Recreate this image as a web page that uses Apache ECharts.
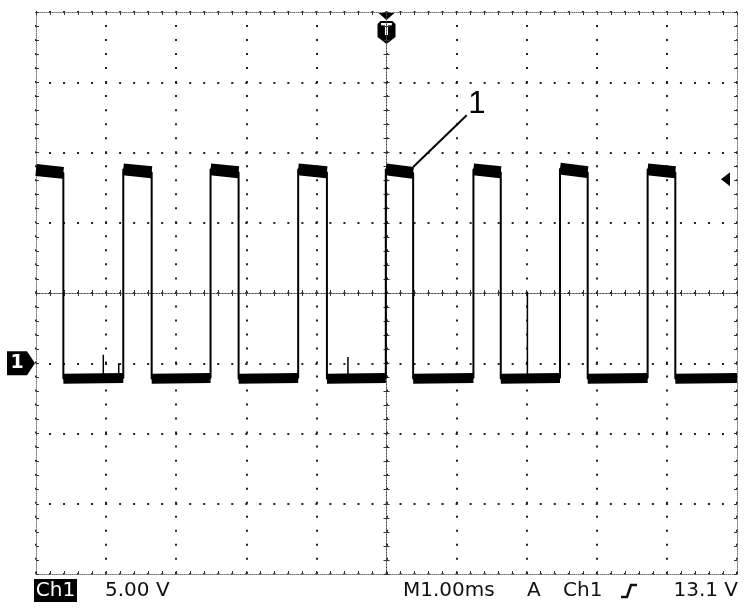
<!DOCTYPE html>
<html><head><meta charset="utf-8">
<script src="https://cdn.jsdelivr.net/npm/echarts@6/dist/echarts.min.js"></script>
<style>html,body{margin:0;padding:0;background:#fff}#c{width:750px;height:614px}</style>
</head><body><div id="c"></div>
<script>
// time in ms (trigger at 0), voltage in V (5 V/div, ground 1 div below centre)
const fallEdges = [-4.61, -3.35, -2.11, -0.85, 0.38, 1.63, 2.87, 4.12];
const riseEdges = [-3.755, -2.51, -1.26, -0.01, 1.24, 2.475, 3.725];
const highStart = [13.75, 13.8, 13.8, 13.8, 13.8, 13.8, 13.85, 13.8];
const highEnd   = [13.55, 13.6, 13.6, 13.6, 13.55, 13.6, 13.6, 13.6];
const lowStart  = [-1.1, -1.1, -1.1, -1.1, -1.1, -1.1, -1.1, -1.1];
const lowEnd    = [-1.05, -1.05, -1.05, -1.05, -1.05, -1.05, -1.05, -1.05];
const spikeTimes = [-4.04, -3.82, -0.55, 2.01];
const spikePeaks = [0.6, 0.0, 0.45, 5.05];
const triggerLevel = 13.1;
const tMin = -5, tMax = 5, vMin = -15, vMax = 25;
const bottomTexts = ['Ch1', '5.00 V', 'M1.00ms', 'A', 'Ch1', '13.1 V'];
const annotation = {from: [0.38, 13.97], to: [1.144, 17.65], labelAt: [1.29, 18.4], text: '1'};

// build waveform
const trace = [], highBand = [], lowBand = [];
for (let i = 0; i < fallEdges.length; i++) {
  const hs = i === 0 ? tMin : riseEdges[i - 1];
  const le = i < riseEdges.length ? riseEdges[i] : tMax;
  trace.push([hs, highStart[i]], [fallEdges[i], highEnd[i]], [fallEdges[i], lowStart[i]], [le, lowEnd[i]]);
  highBand.push([hs, highStart[i]], [fallEdges[i], highEnd[i]], [fallEdges[i], '-']);
  lowBand.push([fallEdges[i], lowStart[i]], [le, lowEnd[i]], [le, '-']);
}
const spikes = [];
spikeTimes.forEach((t, i) => { spikes.push([t, -1.05], [t, spikePeaks[i]], [t, '-']); });

const dotted = {show: true, lineStyle: {color: '#222', width: 2, type: [2, 12.02], dashOffset: 1}};
const borderLine = {show: true, onZero: false, lineStyle: {color: '#777', width: 1, type: [1, 1]}};
const centerLine = {show: true, onZero: true, lineStyle: {color: '#444', width: 1, type: [1, 2]}};
function xAx(extra) {
  return Object.assign({type: 'value', min: tMin, max: tMax, interval: 1,
    axisLabel: {show: false}, splitLine: {show: false},
    axisTick: {show: true, inside: true, length: 3, lineStyle: {color: '#333'}},
    minorTick: {show: true, splitNumber: 5, length: 3, lineStyle: {color: '#333'}}}, extra);
}
function yAx(extra) {
  return Object.assign({type: 'value', min: vMin, max: vMax, interval: 5,
    axisLabel: {show: false}, splitLine: {show: false},
    axisTick: {show: true, inside: true, length: 3, lineStyle: {color: '#333'}},
    minorTick: {show: true, splitNumber: 5, length: 3, lineStyle: {color: '#333'}}}, extra);
}

const option = {
  animation: false,
  backgroundColor: '#fff',
  grid: {left: 36, right: 13, top: 12, bottom: 40},
  xAxis: [
    xAx({position: 'bottom', axisLine: borderLine, splitLine: dotted}),
    xAx({position: 'top', axisLine: borderLine}),
    xAx({position: 'bottom', axisLine: Object.assign({onZeroAxisIndex: 2}, centerLine)}),
    xAx({position: 'bottom', axisLine: Object.assign({onZeroAxisIndex: 2}, centerLine), axisTick: {show: true, inside: false, length: 3, lineStyle: {color: '#333'}}})
  ],
  yAxis: [
    yAx({position: 'left', axisLine: borderLine, splitLine: dotted}),
    yAx({position: 'right', axisLine: borderLine}),
    {type: 'value', min: -4, max: 4, show: false},
    yAx({position: 'left', axisLine: Object.assign({onZeroAxisIndex: 0}, centerLine)}),
    yAx({position: 'left', axisLine: Object.assign({onZeroAxisIndex: 0}, centerLine), axisTick: {show: true, inside: false, length: 3, lineStyle: {color: '#333'}}})
  ],
  series: [
    {type: 'line', name: 'high band', data: highBand, symbol: 'none', lineStyle: {color: '#000', width: 12, cap: 'butt'}, connectNulls: false, z: 3},
    {type: 'line', name: 'low band', data: lowBand, symbol: 'none', lineStyle: {color: '#000', width: 10, cap: 'butt'}, connectNulls: false, z: 3},
    {type: 'line', name: 'trace', data: trace, symbol: 'none', lineStyle: {color: '#000', width: 2}, z: 4,
      markLine: {silent: true, symbol: 'none', label: {show: false}, lineStyle: {color: '#000', width: 2, type: 'solid'},
        data: [[{coord: annotation.from}, {coord: annotation.to}]]},
      markPoint: {symbol: 'circle', symbolSize: 2, itemStyle: {color: 'rgba(0,0,0,0)'},
        label: {show: true, formatter: annotation.text, color: '#000', fontSize: 31, fontFamily: 'Liberation Sans', position: 'inside'},
        data: [{coord: annotation.labelAt}]}},
    {type: 'line', name: 'spikes', data: spikes, symbol: 'none', lineStyle: {color: '#000', width: 1.5}, connectNulls: false, z: 4}
  ]
};

const chart = echarts.init(document.getElementById('c'), null, {renderer: 'canvas'});
chart.setOption(option);
const px = (t, v) => chart.convertToPixel({xAxisIndex: 0, yAxisIndex: 0}, [t, v]);
const topC = px(0, vMax), gnd = px(tMin, 0), trg = px(tMax, triggerLevel);
const cx = topC[0], ty = topC[1], gy = gnd[1], gx = gnd[0], rx = trg[0], ry = trg[1];
const font = '20px "DejaVu Sans"';
const txt = (s, x, align) => ({type: 'text', style: {text: s, x: x, y: 591, align: align || 'left', verticalAlign: 'middle', font: font, fill: '#111'}});
chart.setOption({graphic: [
  {type: 'polygon', shape: {points: [[cx - 8, ty + 1], [cx + 8, ty + 1], [cx, ty + 8]]}, style: {fill: '#000'}},
  {type: 'polygon', shape: {points: [[cx - 9, ty + 12], [cx - 6, ty + 9], [cx + 6, ty + 9], [cx + 9, ty + 12], [cx + 9, ty + 25], [cx, ty + 32], [cx - 9, ty + 25]]}, style: {fill: '#000'}},
  {type: 'text', style: {text: 'T', x: cx, y: ty + 19, align: 'center', verticalAlign: 'middle', font: 'bold 16px "DejaVu Sans"', fill: '#fff'}},
  {type: 'polygon', shape: {points: [[gx - 29, gy - 12], [gx - 9, gy - 12], [gx - 1, gy], [gx - 9, gy + 12], [gx - 29, gy + 12]]}, style: {fill: '#000'}},
  {type: 'text', style: {text: '1', x: gx - 19, y: gy, align: 'center', verticalAlign: 'middle', font: 'bold 19px "DejaVu Sans"', fill: '#fff'}},
  {type: 'polygon', shape: {points: [[rx - 16, ry], [rx - 7, ry - 7], [rx - 7, ry + 7]]}, style: {fill: '#000'}},
  {type: 'rect', shape: {x: 34, y: 579, width: 43, height: 23}, style: {fill: '#000'}},
  {type: 'text', style: {text: bottomTexts[0], x: 55.5, y: 591, align: 'center', verticalAlign: 'middle', font: font, fill: '#fff'}},
  txt(bottomTexts[1], 105),
  txt(bottomTexts[2], 403),
  txt(bottomTexts[3], 527),
  txt(bottomTexts[4], 563),
  {type: 'polyline', shape: {points: [[621, 597], [627, 597], [631, 585], [637, 585]]}, style: {stroke: '#111', lineWidth: 2.5, fill: null}},
  txt(bottomTexts[5], 738, 'right')
]});
</script></body></html>
